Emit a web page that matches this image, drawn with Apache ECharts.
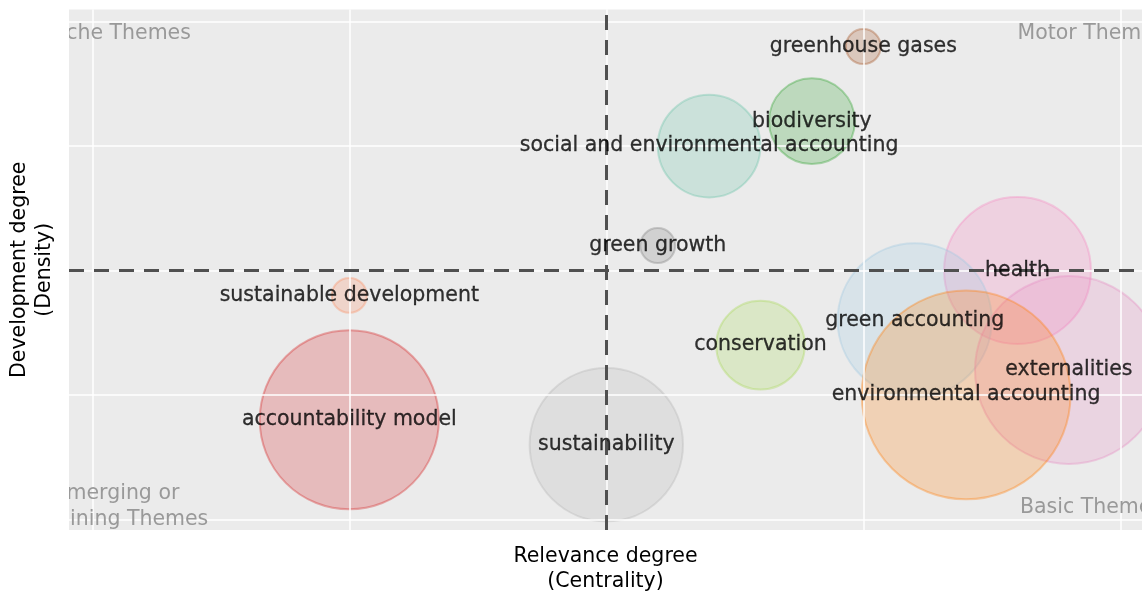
<!DOCTYPE html>
<html>
<head>
<meta charset="utf-8">
<script src="https://cdn.jsdelivr.net/npm/echarts@6/dist/echarts.min.js"></script>
<style>
  html, body { margin: 0; padding: 0; background: #fff; }
  #chart { width: 1142px; height: 591px; }
</style>
</head>
<body>
<div id="chart"></div>
<script>
// themes (clusters)
const topics = [
  'greenhouse gases', 'biodiversity', 'social and environmental accounting', 'green growth',
  'sustainable development', 'health', 'green accounting', 'conservation',
  'externalities', 'environmental accounting', 'accountability model', 'sustainability'
];
// relevance degree (centrality)
const centrality = [3.0, 2.8, 2.4, 2.2, 1.0, 3.6, 3.2, 2.6, 3.8, 3.4, 1.0, 2.0];
// development degree (density)
const density = [3.8, 3.2, 3.0, 2.2, 1.8, 2.0, 1.6, 1.4, 1.2, 1.0, 0.8, 0.6];
// bubble weight (occurrences)
const occurrences = [5, 30, 43, 5, 5, 88, 97, 32, 144, 178, 131, 96];

// quadrant annotations
const quadNames = ['Niche Themes', 'Motor Themes', 'Emerging or\nDeclining Themes', 'Basic Themes'];
const quadX = [0.1, 3.886, 0.094, 3.886];
const quadY = [3.9, 3.9, 0.1, 0.09];

const medianX = 2, medianY = 2;
const gridTicks = [0, 1, 2, 3, 4];

const palette = [
  [166, 86, 40], [44, 160, 44], [102, 194, 165], [127, 127, 127],
  [252, 141, 98], [247, 129, 191], [158, 200, 225], [166, 216, 84],
  [231, 138, 195], [255, 127, 14], [214, 39, 40], [179, 179, 179]
];

const FONT = '"DejaVu Sans", Verdana, sans-serif';
const chart = echarts.init(document.getElementById('chart'));

const bubbleData = topics.map((t, i) => ({
  name: t,
  value: [centrality[i], density[i], occurrences[i]],
  itemStyle: {
    color: `rgba(${palette[i].join(',')},0.3)`,
    borderColor: `rgba(${palette[i].join(',')},0.45)`,
    borderWidth: 2
  }
}));

const option = {
  animation: false,
  backgroundColor: '#fff',
  grid: {
    left: 69, right: 0, top: 9.5, bottom: 61,
    outerBoundsMode: 'none', containLabel: false,
    backgroundColor: '#ebebeb', show: true, borderWidth: 0
  },
  xAxis: {
    type: 'value', min: -0.0907, max: 4.0844,
    axisLine: { show: false }, axisTick: { show: false }, axisLabel: { show: false },
    splitLine: { show: false },
    name: 'Relevance degree\n(Centrality)', nameLocation: 'middle', nameGap: 14,
    nameTextStyle: { fontFamily: FONT, fontSize: 20.5, color: '#000', lineHeight: 25 }
  },
  yAxis: {
    type: 'value', min: -0.086, max: 4.098,
    axisLine: { show: false }, axisTick: { show: false }, axisLabel: { show: false },
    splitLine: { show: false },
    name: 'Development degree\n(Density)', nameLocation: 'middle', nameGap: 12,
    nameTextStyle: { fontFamily: FONT, fontSize: 20.5, color: '#000', lineHeight: 25 }
  },
  series: [
    {
      // white grid lines
      type: 'scatter', data: [], z: 1, silent: true,
      markLine: {
        silent: true, symbol: 'none', label: { show: false },
        lineStyle: { color: '#fff', width: 1.5, type: 'solid' },
        data: gridTicks.map(v => ({ xAxis: v })).concat(gridTicks.map(v => ({ yAxis: v })))
      }
    },
    {
      type: 'scatter', z: 2, data: bubbleData,
      symbolSize: v => 15.65 * Math.sqrt(v[2]),
      label: { show: false }
    },
    {
      // median dashed lines
      type: 'scatter', data: [], z: 3, silent: true,
      markLine: {
        silent: true, symbol: 'none', label: { show: false },
        lineStyle: { color: '#505050', width: 3, type: [15, 10] },
        data: [{ xAxis: medianX }, { yAxis: medianY }]
      }
    },
    {
      type: 'scatter', z: 10, zlevel: 1, silent: true, symbolSize: 1,
      itemStyle: { color: 'rgba(0,0,0,0)' },
      data: topics.map((t, i) => ({ name: t, value: [centrality[i], density[i]] })),
      label: {
        show: true, position: 'inside', formatter: '{b}',
        fontFamily: FONT, fontSize: 20.5, color: '#000',
        textBorderColor: '#000', textBorderWidth: 0.3
      }
    },
    {
      type: 'custom', z: 5, silent: true, clip: true,
      data: quadNames.map((q, i) => [quadX[i], quadY[i], i]),
      renderItem: (params, api) => {
        const p = api.coord([api.value(0), api.value(1)]);
        return {
          type: 'text', x: p[0], y: p[1],
          style: {
            text: quadNames[api.value(2)], fill: '#999', font: '20.5px ' + FONT,
            align: 'center', verticalAlign: 'middle', lineHeight: 26
          }
        };
      }
    }
  ]
};
chart.setOption(option);
</script>
</body>
</html>
